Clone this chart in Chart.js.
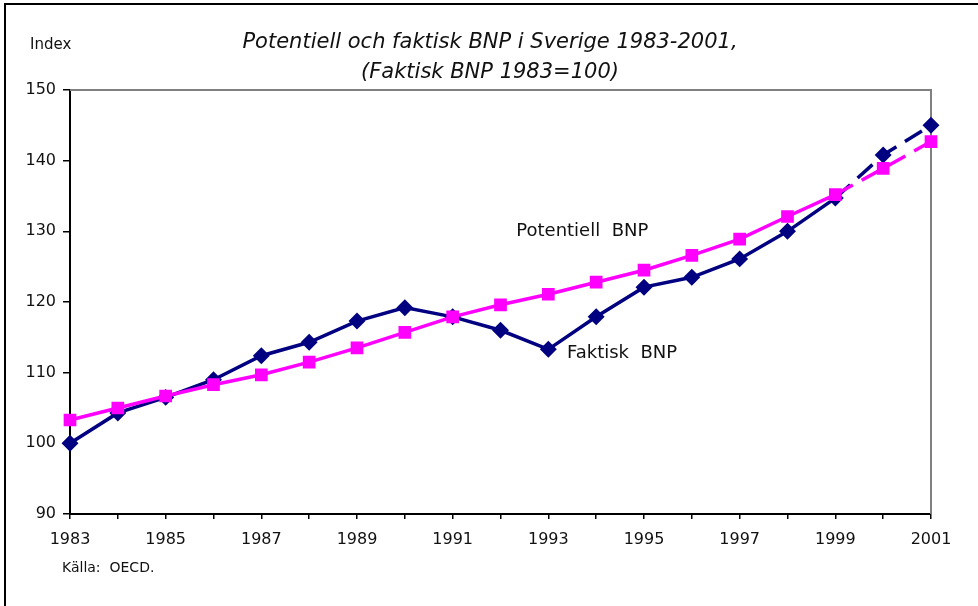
<!DOCTYPE html>
<html>
<head>
<meta charset="utf-8">
<script src="https://cdn.jsdelivr.net/npm/chart.js@4"></script>
<style>
  html, body { margin: 0; padding: 0; background: #fff; }
  #wrap { position: relative; width: 978px; height: 606px; overflow: hidden; }
  #frame { position: absolute; left: 4px; top: 3px; width: 1000px; height: 700px; border-left: 2px solid #000; border-top: 2px solid #000; box-sizing: border-box; }
  canvas { position: absolute; left: 0; top: 0; }
</style>
</head>
<body>
<div id="wrap">
  <div id="frame"></div>
  <canvas id="myChart" width="978" height="606"></canvas>
</div>
<script>
// data
const years = ['1983', '1984', '1985', '1986', '1987', '1988', '1989', '1990', '1991', '1992',
               '1993', '1994', '1995', '1996', '1997', '1998', '1999', '2000', '2001'];
const faktisk = [100, 104.3, 106.5, 109.0, 112.4, 114.3, 117.3, 119.2, 117.9, 116.0,
                 113.3, 117.9, 122.1, 123.5, 126.1, 130.0, 134.7, 140.8, 145.0];
const potentiell = [103.3, 105.0, 106.7, 108.3, 109.7, 111.5, 113.5, 115.7, 117.9, 119.6,
                    121.1, 122.8, 124.5, 126.6, 128.9, 132.1, 135.2, 138.9, 142.7];
const prognosFrom = 16; // dashed from 1999 onwards
const yTicks = [90, 100, 110, 120, 130, 140, 150];

const dashed = ctx => ctx.p0DataIndex >= prognosFrom ? [20, 10] : undefined;

// title, notes and plot frame
const textPlugin = {
    id: 'texts',
    beforeDatasetsDraw(chart) {
        const { ctx, chartArea: a } = chart;
        ctx.save();
        ctx.strokeStyle = '#808080';
        ctx.lineWidth = 2;
        ctx.beginPath();
        ctx.moveTo(a.left, a.top);
        ctx.lineTo(a.right, a.top);
        ctx.lineTo(a.right, a.bottom);
        ctx.stroke();
        ctx.restore();
    },
    afterDraw(chart) {
        const { ctx, scales } = chart;
        ctx.save();
        ctx.fillStyle = '#111';
        ctx.textBaseline = 'middle';
        ctx.textAlign = 'center';
        ctx.font = 'italic 21px "DejaVu Sans", sans-serif';
        ctx.fillText('Potentiell och faktisk BNP i Sverige 1983-2001,', 490, 43);
        ctx.fillText('(Faktisk BNP 1983=100)', 490, 73);
        ctx.textAlign = 'left';
        ctx.font = '15px "DejaVu Sans", sans-serif';
        ctx.fillText('Index', 30, 45);
        ctx.font = '14px "DejaVu Sans", sans-serif';
        ctx.fillText('Källa:  OECD.', 62, 568);
        ctx.font = '18px "DejaVu Sans", sans-serif';
        ctx.fillText('Potentiell  BNP', scales.x.getPixelForValue(9.33), scales.y.getPixelForValue(130));
        ctx.fillText('Faktisk  BNP', scales.x.getPixelForValue(10.39), scales.y.getPixelForValue(112.8));
        ctx.restore();
    }
};

const ctx = document.getElementById('myChart').getContext('2d');
const myChart = new Chart(ctx, {
    type: 'line',
    data: {
        labels: years,
        datasets: [{
            label: 'Faktisk BNP',
            data: faktisk,
            borderColor: '#000080',
            backgroundColor: '#000080',
            borderWidth: 3.5,
            pointStyle: 'rectRot',
            pointRadius: 6,
            pointHoverRadius: 6,
            tension: 0,
            order: 1,
            segment: { borderDash: dashed }
        }, {
            label: 'Potentiell BNP',
            data: potentiell,
            borderColor: '#ff00ff',
            backgroundColor: '#ff00ff',
            borderWidth: 3.5,
            pointStyle: 'rect',
            pointRadius: 6.5,
            pointHoverRadius: 6.5,
            tension: 0,
            order: 0,
            segment: { borderDash: dashed }
        }]
    },
    options: {
        responsive: false,
        animation: false,
        layout: { padding: { left: 0, right: 47, top: 90, bottom: 52 } },
        plugins: {
            legend: { display: false },
            title: { display: false },
            tooltip: { enabled: false }
        },
        scales: {
            x: {
                offset: false,
                afterFit(scale) { scale.height = 40; },
                grid: { drawOnChartArea: false, drawTicks: true, tickLength: 5, color: '#000', lineWidth: 1.5 },
                border: { color: '#000', width: 2 },
                ticks: {
                    color: '#111',
                    font: { family: '"DejaVu Sans", sans-serif', size: 16 },
                    autoSkip: false,
                    maxRotation: 0,
                    padding: 11,
                    callback: (v, i) => i % 2 === 0 ? years[i] : ''
                }
            },
            y: {
                min: yTicks[0],
                max: yTicks[yTicks.length - 1],
                afterFit(scale) { scale.width = 70; },
                afterBuildTicks(scale) { scale.ticks = yTicks.map(v => ({ value: v })); },
                grid: { drawOnChartArea: false, drawTicks: true, tickLength: 7, color: '#000', lineWidth: 1.5 },
                border: { color: '#000', width: 2 },
                ticks: {
                    color: '#111',
                    font: { family: '"DejaVu Sans", sans-serif', size: 16 },
                    padding: 7
                }
            }
        }
    },
    plugins: [textPlugin]
});
</script>
</body>
</html>
